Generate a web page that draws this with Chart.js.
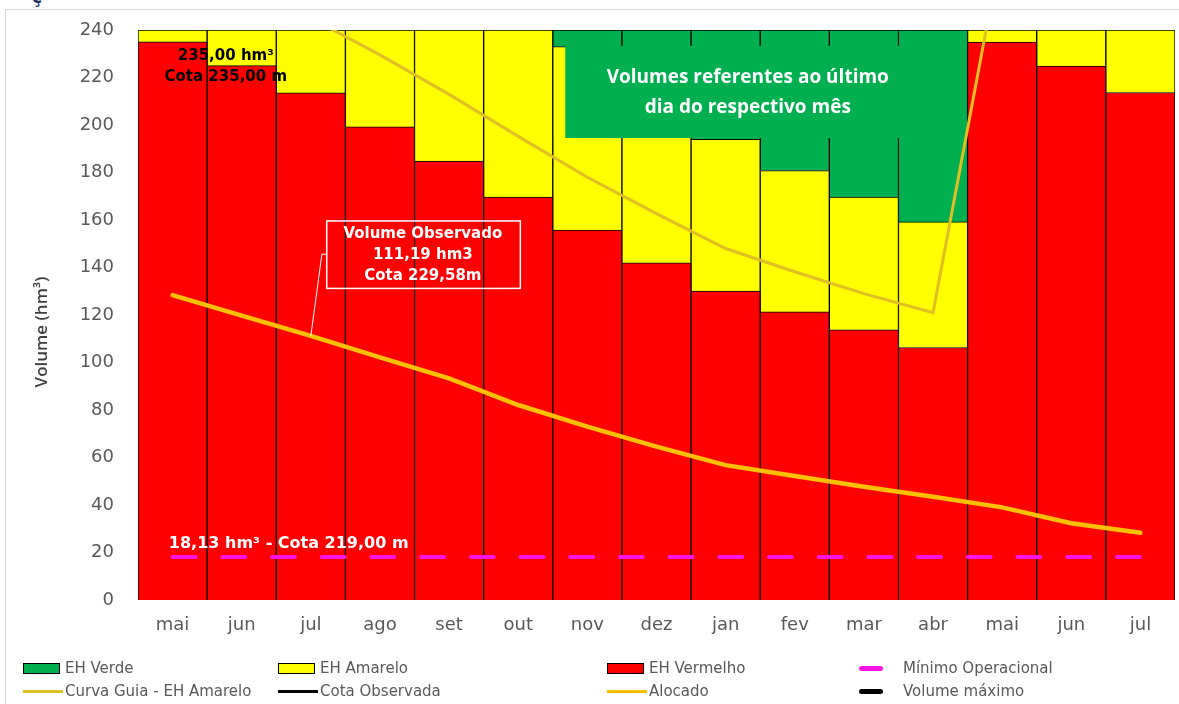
<!DOCTYPE html>
<html lang="pt-BR">
<head>
<meta charset="UTF-8">
<title>Volume</title>
<script src="https://cdn.jsdelivr.net/npm/chart.js"></script>
<style>
  body { margin: 0; background: #fff; }
  #wrap { position: relative; width: 1179px; height: 704px; overflow: hidden; }
  #frame { position: absolute; left: 5px; top: 9px; width: 1300px; height: 800px;
           border-left: 1px solid #d9d9d9; border-top: 1px solid #d9d9d9; }
  #topchar { position: absolute; left: 32px; top: -13px; font: bold 17px "DejaVu Sans"; color: #1f3864; }
  canvas { position: absolute; left: 0; top: 0; }
  #legend { position: absolute; left: 0; top: 0; width: 1179px; height: 704px; pointer-events: none;
            font: 15px "DejaVu Sans"; color: #595959; }
  .item { position: absolute; height: 22px; display: flex; align-items: center; white-space: nowrap; }
  .mk { display: inline-block; box-sizing: border-box; }
</style>
</head>
<body>
<div id="wrap">
  <div id="frame"></div>
  <div id="topchar">ç</div>
  <canvas id="grafico" width="1179" height="704"></canvas>
  <div id="legend"></div>
</div>

<script>
  // meses (ultimo dia de cada mes)
  const meses = ['mai','jun','jul','ago','set','out','nov','dez','jan','fev','mar','abr','mai','jun','jul'];

  // faixas dos estados hidrologicos (hm3, empilhadas)
  const ehVermelho = [235, 225, 213.5, 199.2, 184.8, 169.6, 155.8, 142, 130.1, 121.3, 113.8, 106.3, 234.9, 224.8, 213.7];
  const ehAmarelo  = [5, 15, 26.5, 40.8, 55.2, 70.4, 77.2, 71, 63.9, 59.5, 55.8, 52.9, 5.1, 15.2, 26.3];
  const ehVerde    = [null, null, null, null, null, null, 7, 27, 46, 59.2, 70.4, 80.8, null, null, null];

  // linhas
  const curvaGuia  = [276, 261, 245, 229.5, 212.9, 195.2, 178, 162.7, 148, 138.2, 129, 121, 276, 261, 245];
  const alocado    = [128.4, 119.7, 111.2, 102.2, 93.3, 82.1, 73, 64.6, 56.8, 52.2, 47.7, 43.5, 39, 32.3, 28.3];
  const minimoOperacional = [18.13, 18.13, 18.13, 18.13, 18.13, 18.13, 18.13, 18.13, 18.13, 18.13, 18.13, 18.13, 18.13, 18.13, 18.13];
  const cotaObservada = [];
  const volumeMaximo = [];

  const yTicks = [0, 20, 40, 60, 80, 100, 120, 140, 160, 180, 200, 220, 240];

  const canvas = document.getElementById('grafico');

  // textos e caixas sobre o grafico
  const anotacoes = {
    id: 'anotacoes',
    afterDatasetsDraw(chart) {
      const ctx = chart.ctx;
      const x = chart.scales.x, y = chart.scales.y;
      ctx.save();

      // caixa verde
      const bx1 = x.getPixelForValue(5.68), bx2 = x.getPixelForValue(10.97);
      const by1 = y.getPixelForValue(233.3), by2 = y.getPixelForValue(194.5);
      ctx.fillStyle = '#00b050';
      ctx.fillRect(bx1, by1, bx2 - bx1, by2 - by1);
      ctx.fillStyle = '#ffffff';
      ctx.font = 'bold 19px "Open Sans"';
      ctx.textAlign = 'center';
      ctx.textBaseline = 'middle';
      ctx.fillText('Volumes referentes ao último', x.getPixelForValue(8.32), y.getPixelForValue(219.8));
      ctx.fillText('dia do respectivo mês', x.getPixelForValue(8.32), y.getPixelForValue(207.2));

      // volume maximo
      ctx.fillStyle = '#000000';
      ctx.font = 'bold 15px "DejaVu Sans"';
      ctx.fillText('235,00 hm³', x.getPixelForValue(0.77), y.getPixelForValue(229.1));
      ctx.fillText('Cota 235,00 m', x.getPixelForValue(0.77), y.getPixelForValue(220.2));

      // volume observado
      const ox1 = x.getPixelForValue(2.23), ox2 = x.getPixelForValue(5.03);
      const oy1 = y.getPixelForValue(159.6), oy2 = y.getPixelForValue(131.2);
      ctx.strokeStyle = '#ffffff';
      ctx.lineWidth = 1.5;
      ctx.strokeRect(ox1, oy1, ox2 - ox1, oy2 - oy1);
      ctx.lineWidth = 1;
      ctx.beginPath();
      ctx.moveTo(ox1, y.getPixelForValue(145.6));
      ctx.lineTo(x.getPixelForValue(2.16), y.getPixelForValue(145.6));
      ctx.lineTo(x.getPixelForValue(2), y.getPixelForValue(alocado[2]));
      ctx.stroke();
      ctx.fillStyle = '#ffffff';
      ctx.font = 'bold 15px "DejaVu Sans"';
      const ocx = x.getPixelForValue(3.62);
      ctx.fillText('Volume Observado', ocx, y.getPixelForValue(154));
      ctx.fillText('111,19 hm3', ocx, y.getPixelForValue(145.3));
      ctx.fillText('Cota 229,58m', ocx, y.getPixelForValue(136.5));

      // minimo operacional
      ctx.font = 'bold 16px "DejaVu Sans"';
      ctx.fillText('18,13 hm³ - Cota 219,00 m', x.getPixelForValue(1.68), y.getPixelForValue(23.6));

      ctx.restore();
    },
    afterDraw(chart) {
      const ctx = chart.ctx;
      const y = chart.scales.y;
      ctx.save();
      ctx.translate(42, (y.top + y.bottom) / 2 + 17);
      ctx.rotate(-Math.PI / 2);
      ctx.fillStyle = '#404040';
      ctx.font = '600 17px "Open Sans"';
      ctx.textAlign = 'center';
      ctx.textBaseline = 'middle';
      ctx.fillText('Volume (hm³)', 0, 0);
      ctx.restore();
    }
  };

  const barra = { borderColor: '#000', borderWidth: 1, barPercentage: 1, categoryPercentage: 1, order: 2, stack: 'eh' };

  const chart = new Chart(canvas, {
    type: 'bar',
    data: {
      labels: meses,
      datasets: [
        Object.assign({ label: 'EH Vermelho', data: ehVermelho, backgroundColor: '#ff0000' }, barra),
        Object.assign({ label: 'EH Amarelo', data: ehAmarelo, backgroundColor: '#ffff00' }, barra),
        Object.assign({ label: 'EH Verde', data: ehVerde, backgroundColor: '#00b050' }, barra),
        { type: 'line', label: 'Mínimo Operacional', data: minimoOperacional, borderColor: '#ff14e6', borderWidth: 4,
          borderDash: [23, 26.7], borderCapStyle: 'round', pointRadius: 0, order: 1, stack: 'l1' },
        { type: 'line', label: 'Curva Guia - EH Amarelo', data: curvaGuia, borderColor: '#dfbf22', borderWidth: 3,
          pointRadius: 0, order: 1, stack: 'l2' },
        { type: 'line', label: 'Cota Observada', data: cotaObservada, borderColor: '#000', borderWidth: 3,
          pointRadius: 0, order: 1, stack: 'l3' },
        { type: 'line', label: 'Alocado', data: alocado, borderColor: '#ffc000', borderWidth: 4.5,
          borderCapStyle: 'round', pointRadius: 0, order: 0, stack: 'l4' },
        { type: 'line', label: 'Volume máximo', data: volumeMaximo, borderColor: '#000', borderWidth: 4,
          pointRadius: 0, order: 1, stack: 'l5' }
      ]
    },
    options: {
      responsive: false,
      animation: false,
      layout: { padding: { top: 30, right: 4, bottom: 54, left: 0 } },
      plugins: { legend: { display: false }, tooltip: { enabled: false } },
      scales: {
        x: {
          stacked: true,
          grid: { display: false, drawTicks: false },
          border: { display: false },
          ticks: { color: '#595959', font: { family: 'DejaVu Sans', size: 18 }, padding: 15 },
          afterFit(s) { s.height = 50; }
        },
        y: {
          stacked: true,
          min: 0,
          max: 240,
          grid: { display: false, drawTicks: false },
          border: { display: false },
          afterBuildTicks(s) { s.ticks = yTicks.map(v => ({ value: v })); },
          ticks: { color: '#595959', font: { family: 'DejaVu Sans', size: 18 }, padding: 24 },
          afterFit(s) { s.width = 138; s.paddingTop = 10; s.paddingBottom = 10; }
        }
      }
    },
    plugins: [anotacoes]
  });

  // legenda em 4 colunas, 2 linhas (como no original)
  const ordemLegenda = ['EH Verde', 'EH Amarelo', 'EH Vermelho', 'Mínimo Operacional',
                        'Curva Guia - EH Amarelo', 'Cota Observada', 'Alocado', 'Volume máximo'];
  const colunas = [23, 278, 607, 859];
  const linhas = [657, 680];
  const legend = document.getElementById('legend');
  ordemLegenda.forEach(function(nome, i) {
    const ds = chart.data.datasets.find(d => d.label === nome);
    const item = document.createElement('div');
    item.className = 'item';
    item.style.left = colunas[i % 4] + 'px';
    item.style.top = linhas[Math.floor(i / 4)] + 'px';
    const mk = document.createElement('span');
    mk.className = 'mk';
    if (ds.type !== 'line') {
      mk.style.width = '37px'; mk.style.height = '11px';
      mk.style.background = ds.backgroundColor; mk.style.border = '1.5px solid #000';
      mk.style.marginRight = '5px';
    } else if (nome === 'Mínimo Operacional' || nome === 'Volume máximo') {
      mk.style.width = '24px'; mk.style.height = '5px'; mk.style.borderRadius = '3px';
      mk.style.background = ds.borderColor; mk.style.marginRight = '20px';
    } else {
      mk.style.width = '40px'; mk.style.height = '3px';
      mk.style.background = ds.borderColor; mk.style.marginRight = '2px';
    }
    item.appendChild(mk);
    item.appendChild(document.createTextNode(nome));
    legend.appendChild(item);
  });
</script>
</body>
</html>
